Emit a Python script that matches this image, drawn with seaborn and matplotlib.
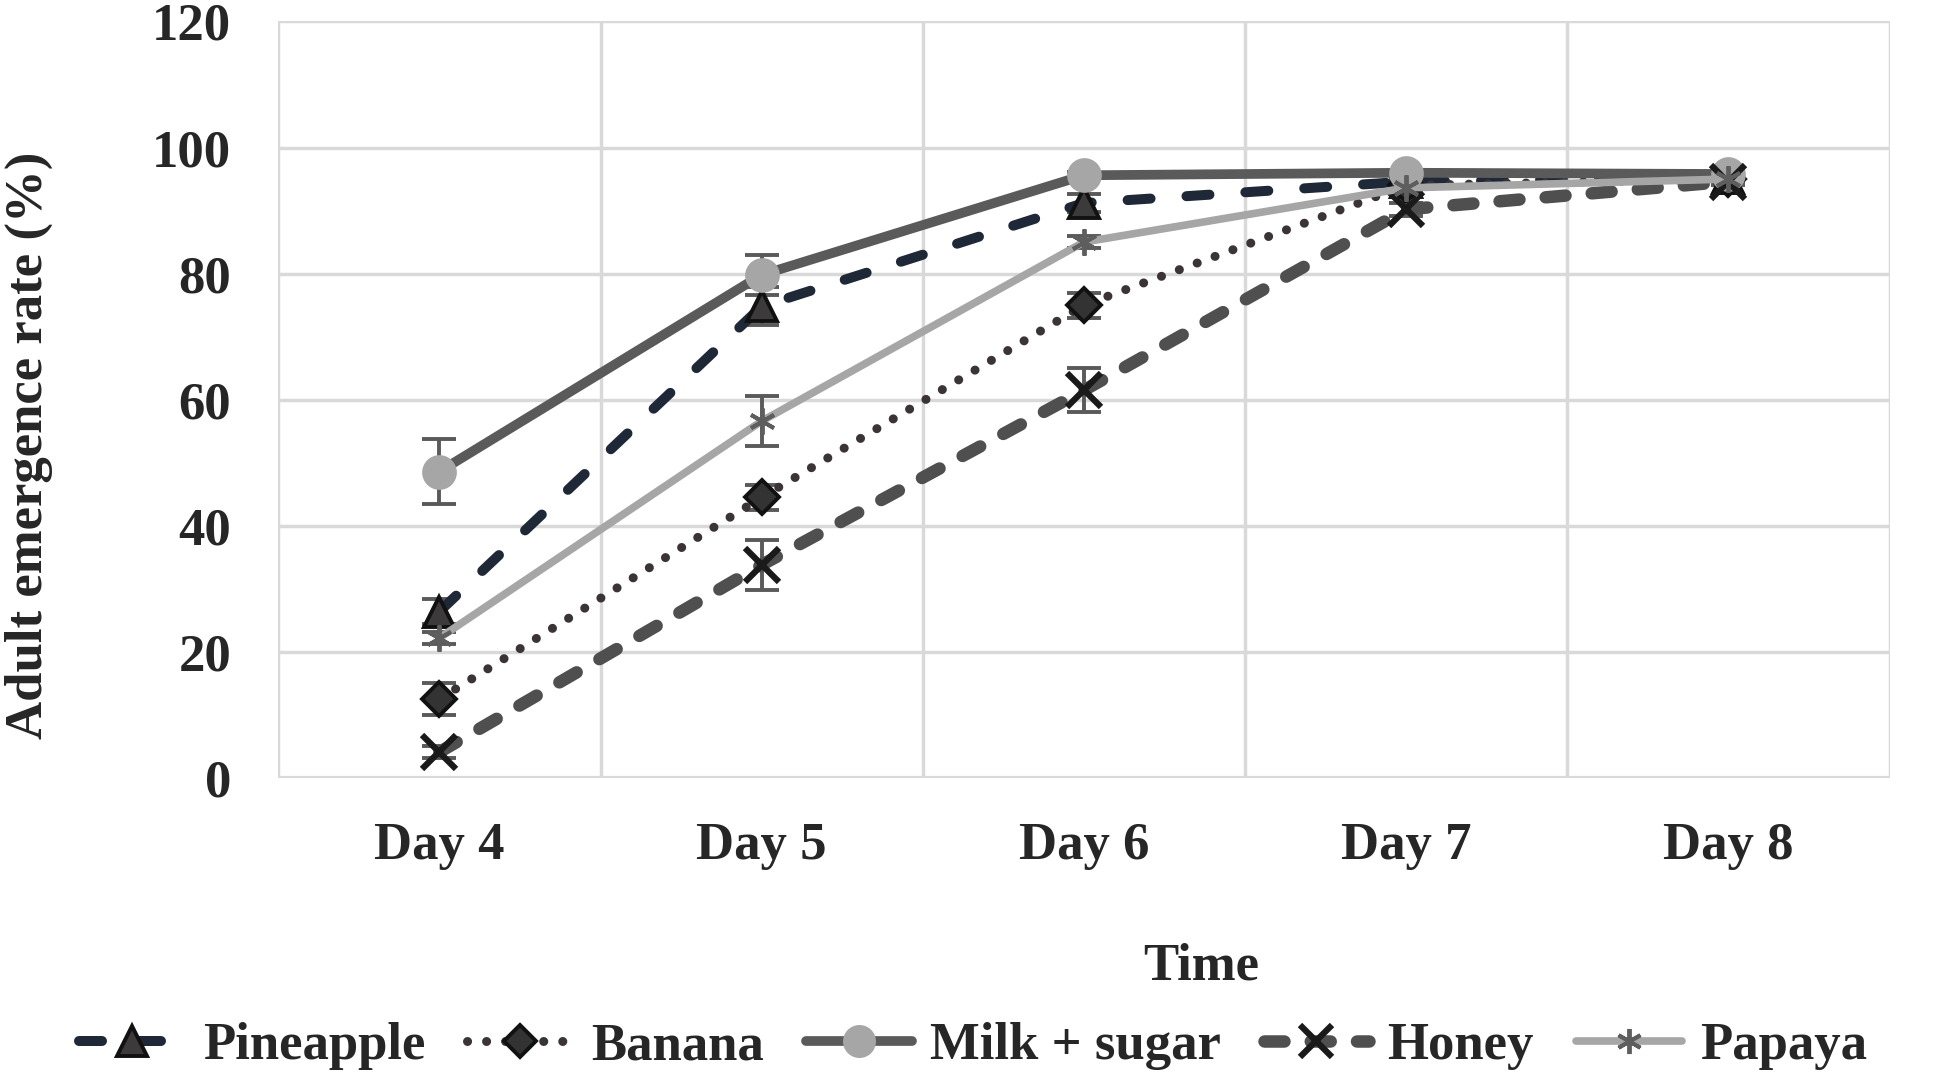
import numpy as np
import pandas as pd
import seaborn as sns
import matplotlib.pyplot as plt

days = ['Day 4', 'Day 5', 'Day 6', 'Day 7', 'Day 8']
pineapple = [26.4, 74.8, 91.2, 94.6, 95.2]
pineapple_err = [2.0, 3.0, 1.5, 0.5, 0.5]
banana = [12.5, 44.5, 75.0, 94.0, 95.0]
banana_err = [2.5, 2.0, 2.0, 0.5, 0.5]
milk_sugar = [48.6, 79.8, 95.6, 96.0, 95.8]
milk_sugar_err = [5.2, 3.2, 0.5, 0.5, 0.5]
honey = [4.1, 33.8, 61.5, 90.2, 94.6]
honey_err = [1.0, 4.0, 3.5, 1.0, 0.5]
papaya = [22.2, 56.6, 85.0, 93.6, 95.0]
papaya_err = [1.0, 4.0, 1.0, 0.5, 0.5]

series = {
    'Pineapple': (pineapple, pineapple_err),
    'Banana': (banana, banana_err),
    'Milk + sugar': (milk_sugar, milk_sugar_err),
    'Honey': (honey, honey_err),
    'Papaya': (papaya, papaya_err),
}

# line / marker style per series (dashes in units of linewidth, round caps)
styles = {
    'Pineapple': dict(color='#1e2837', lw=7.2, dashes=(2.3, 3.6), marker='^', ms=22,
                      mfc='#3d3a3b', mec='#111111', mew=2.8),
    'Banana': dict(color='#3a3436', lw=6.5, dashes=(0.01, 2.1), marker='D', ms=17,
                   mfc='#333333', mec='#111111', mew=2.8),
    'Milk + sugar': dict(color='#5a5a5a', lw=7.0, dashes=None, marker='o', ms=25,
                         mfc='#a6a6a6', mec='#a6a6a6', mew=0),
    'Honey': dict(color='#4f4f4f', lw=9.0, dashes=(1.6, 2.1), marker='x', ms=25,
                  mfc='#1a1a1a', mec='#1a1a1a', mew=4.5),
    'Papaya': dict(color='#a6a6a6', lw=5.5, dashes=None, marker=(6, 2, 0), ms=19,
                   mfc='#5e5e5e', mec='#5e5e5e', mew=2.8),
}

rows = []
for name, (vals, errs) in series.items():
    for d, v, e in zip(days, vals, errs):
        rows.append({'Time': d, 'rate': v, 'err': e, 'food': name})
df = pd.DataFrame(rows)

sns.set_style('white')
plt.rcParams['font.family'] = ['Liberation Serif', 'DejaVu Serif']
plt.rcParams['font.weight'] = 'bold'

fig = plt.figure(figsize=(19.46, 10.73), dpi=100)
ax = fig.add_axes([0.143, 0.275, 0.828, 0.705])

x = np.arange(len(days))
for name in series:
    st = styles[name]
    sub = df[df['food'] == name]
    # error bars first, under the lines
    ax.errorbar(x, sub['rate'], yerr=sub['err'], fmt='none', ecolor='#5a5a5a',
                elinewidth=2.8, capsize=12, capthick=2.8, zorder=2)
    sns.lineplot(x=x, y=sub['rate'].values, ax=ax, color=st['color'],
                 marker=st['marker'], markersize=st['ms'], markerfacecolor=st['mfc'],
                 markeredgecolor=st['mec'], markeredgewidth=st['mew'], label=name,
                 zorder=3, legend=False)
    line = ax.lines[-1]
    line.set_linewidth(st['lw'])
    line.set_solid_capstyle('round')
    if st['dashes'] is not None:
        line.set_dashes(st['dashes'])
        line.set_dash_capstyle('round')

ax.set_xlim(-0.5, 4.5)
ax.set_ylim(0, 120)
ax.set_yticks(range(0, 121, 20))
ax.set_xticks(x)
ax.set_xticklabels(days)
for v in np.arange(-0.5, 4.6, 1.0):
    ax.axvline(v, color='#d9d9d9', lw=2.5, zorder=0)
for v in range(20, 121, 20):
    ax.axhline(v, color='#d9d9d9', lw=2.5, zorder=0)
ax.axhline(0, color='#d9d9d9', lw=3, zorder=1)
for s in ax.spines.values():
    s.set_visible(False)
ax.tick_params(axis='both', length=0, labelsize=38)
ax.tick_params(axis='x', pad=32)
ax.tick_params(axis='y', pad=34)
for lbl in ax.get_xticklabels() + ax.get_yticklabels():
    lbl.set_fontweight('bold')

ax.set_xlabel('Time', fontsize=38, fontweight='bold')
ax.set_ylabel('Adult emergence rate (%)', fontsize=38, fontweight='bold')
ax.xaxis.set_label_coords(0.573, -0.218)
ax.yaxis.set_label_coords(-0.14, 0.44)

handles = [l for l in ax.lines if l.get_label() in series]
fig.legend(handles, [h.get_label() for h in handles], loc='center', ncol=5,
           bbox_to_anchor=(0.5, 0.025), frameon=False, fontsize=38, handlelength=2.0,
           columnspacing=0.8, handletextpad=0.35, markerscale=0.95)

fig.savefig('out.png', dpi=100)
